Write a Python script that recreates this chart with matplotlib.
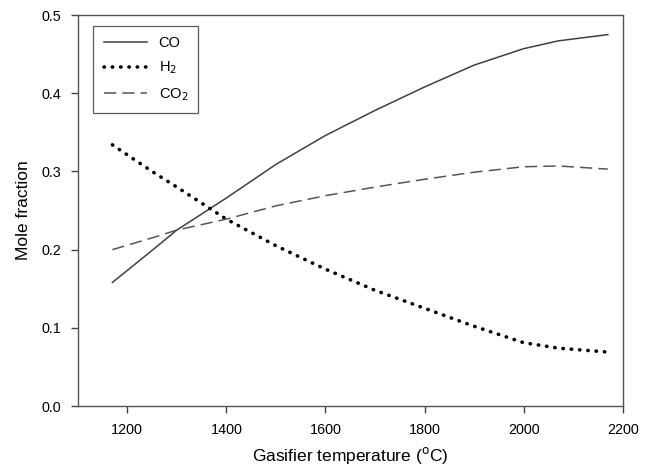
import numpy as np
import matplotlib
matplotlib.use("Agg")
import matplotlib.pyplot as plt

plt.rcParams['font.family'] = ['Liberation Sans', 'DejaVu Sans']

# gasifier temperature (C) and mole fractions
temp = [1170, 1250, 1300, 1400, 1500, 1600, 1700, 1800, 1900, 2000, 2070, 2170]
co = [0.158, 0.199, 0.225, 0.266, 0.309, 0.346, 0.378, 0.408, 0.436, 0.457, 0.467, 0.475]
h2 = [0.334, 0.300, 0.280, 0.239, 0.205, 0.175, 0.148, 0.125, 0.102, 0.081, 0.074, 0.069]
co2 = [0.200, 0.215, 0.225, 0.239, 0.256, 0.269, 0.280, 0.290, 0.299, 0.306, 0.307, 0.303]

xticks = [1200, 1400, 1600, 1800, 2000, 2200]
yticks = [0.0, 0.1, 0.2, 0.3, 0.4, 0.5]

fig = plt.figure(figsize=(6.51, 4.71), dpi=100)
ax = fig.add_axes([0.1194, 0.138, 0.8371, 0.830])

ax.plot(temp, co, color='#404040', lw=1.1, label='CO')
ax.plot(temp, h2, color='black', lw=2.6, linestyle=(0, (0.1, 2.2)),
        dash_capstyle='round', label='H$_2$')
ax.plot(temp, co2, color='#555555', lw=1.1, linestyle=(0, (8, 4)), label='CO$_2$')

ax.set_xlim(1100, 2200)
ax.set_ylim(0, 0.5)
ax.set_xticks(xticks)
ax.set_yticks(yticks)
ax.set_yticklabels([f"{v:.1f}" for v in yticks])
ax.tick_params(direction='out', length=5, width=1, color='#444444', labelsize=10.4, pad=7)
for s in ax.spines.values():
    s.set_color('#555555')
    s.set_linewidth(1.0)

ax.set_xlabel('Gasifier temperature ($^\\mathrm{o}$C)', fontsize=12.5, labelpad=6)
ax.set_ylabel('Mole fraction', fontsize=12.5, labelpad=7)

leg = ax.legend(loc='upper left', bbox_to_anchor=(0.0286, 0.972), borderaxespad=0,
                fontsize=10.5, frameon=True, fancybox=False, handlelength=3.0,
                handletextpad=0.77, borderpad=0.7, labelspacing=0.65)
leg.get_frame().set_edgecolor('#333333')
leg.get_frame().set_linewidth(0.9)

fig.savefig('out.png', dpi=100)
